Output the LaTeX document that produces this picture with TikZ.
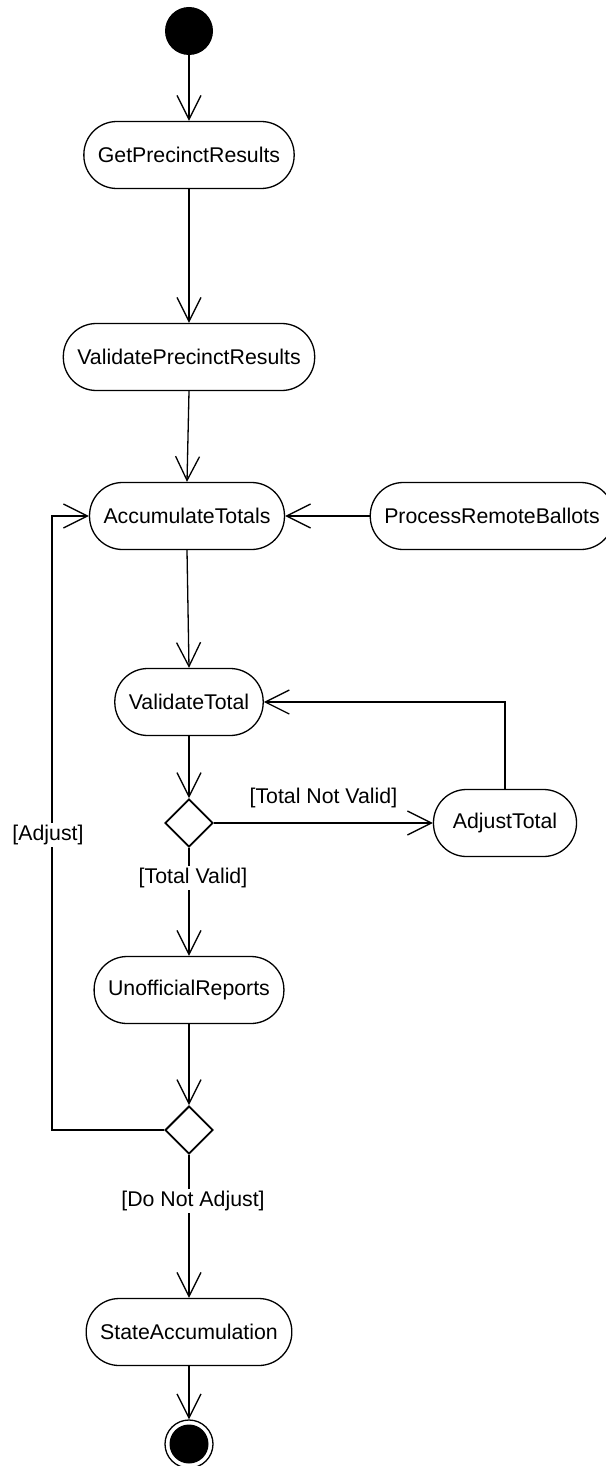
\documentclass[tikz,border=0pt]{standalone}
\usepackage{fontspec}
\setmainfont{Liberation Sans}
\usetikzlibrary{arrows.meta,shapes.geometric}
\tikzset{
  actbox/.style={rectangle,rounded corners=33pt,draw,line width=1.3pt,minimum height=67pt,inner xsep=14pt,font=\fontsize{21.3}{25}\selectfont},
  choice/.style={diamond,draw,line width=1.9pt,minimum width=48pt,minimum height=48pt,inner sep=0pt},
  flow/.style={draw,line width=1.3pt,-{Straight Barb[length=24pt,width=24pt]}},
  guard/.style={fill=white,inner sep=2pt,font=\fontsize{21.3}{25}\selectfont}
}

\begin{document}
\begin{tikzpicture}[x=1pt,y=-1pt]
\useasboundingbox (0,0) rectangle (605,1466);
\node[circle,fill,inner sep=0pt,minimum size=48pt] (start) at (189,31) {};
\node[actbox] (getres) at (189,155) {GetPrecinctResults};
\node[actbox] (valres) at (189,357) {ValidatePrecinctResults};
\node[actbox] (acc) at (187,516) {AccumulateTotals};
\node[actbox] (remote) at (492,516) {ProcessRemoteBallots};
\node[actbox] (valtot) at (189,702) {ValidateTotal};
\node[choice] (dec1) at (189,823) {};
\node[actbox,minimum width=143pt] (adj) at (505,823) {AdjustTotal};
\node[actbox] (unoff) at (189,990) {UnofficialReports};
\node[choice] (dec2) at (189,1130) {};
\node[actbox] (stateacc) at (189,1332) {StateAccumulation};
\node[circle,draw,line width=1.3pt,inner sep=0pt,minimum size=48pt,
  path picture={\fill (path picture bounding box.center) circle (19.5pt);}] (stop) at (189,1444) {};
\coordinate (loopturn) at (52,1130);
\draw[flow] (start) -- (getres);
\draw[flow] (getres) -- (valres);
\draw[flow] (valres.south) -- (acc.north);
\draw[flow] (remote) -- (acc);
\draw[flow] (acc.south) -- (valtot.north);
\draw[flow] (valtot) -- (dec1);
\draw[flow] (dec1.east) -- node[above=12pt,inner sep=2pt,font=\fontsize{21.3}{25}\selectfont] {[Total Not Valid]} (adj.west);
\draw[flow] (adj.north) |- (valtot.east);
\draw[flow] (dec1.south) -- node[guard,pos=0.28,xshift=4pt] {[Total Valid]} (unoff.north);
\draw[flow] (unoff) -- (dec2);
\draw[flow] (dec2.west) -- (loopturn) |- node[guard,pos=0.24,xshift=-4pt] {[Adjust]} (acc.west);
\draw[flow] (dec2.south) -- node[guard,pos=0.32,xshift=4pt] {[Do Not Adjust]} (stateacc.north);
\draw[flow] (stateacc) -- (stop);
\end{tikzpicture}
\end{document}
